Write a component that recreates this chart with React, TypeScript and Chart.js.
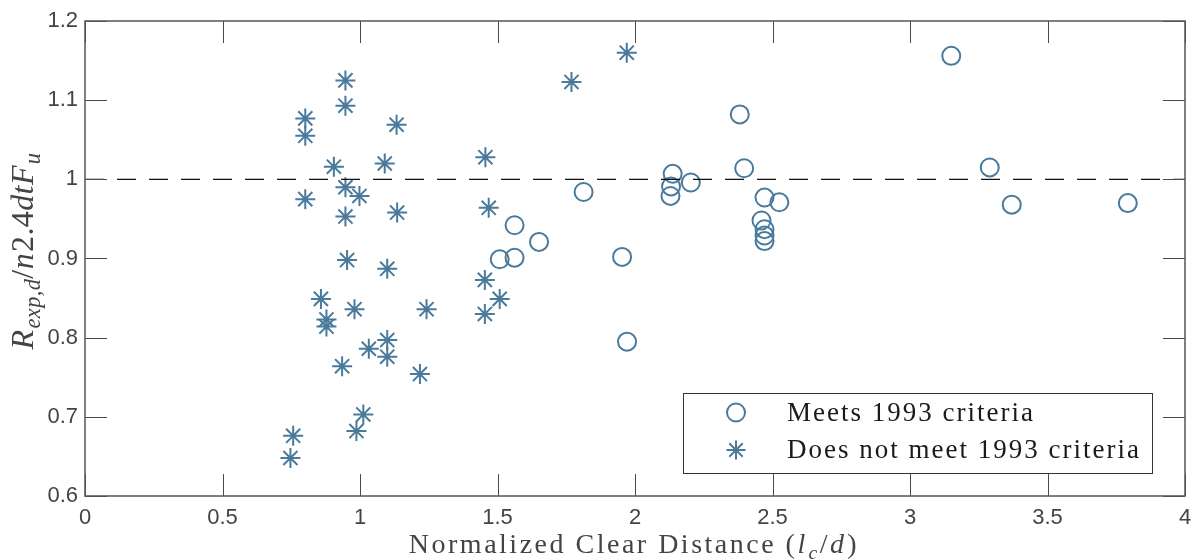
import React, { useEffect, useRef } from "react";
import { Chart, registerables } from "chart.js";

Chart.register(...registerables);

const meetsX = [1.508, 1.562, 1.562, 1.651, 1.813, 1.953, 1.971, 2.129, 2.131, 2.137, 2.203, 2.381, 2.397, 2.46, 2.471, 2.471, 2.471, 2.471, 2.525, 3.15, 3.29, 3.37, 3.792];
const meetsY = [0.899, 0.901, 0.942, 0.921, 0.984, 0.902, 0.795, 0.979, 0.991, 1.007, 0.996, 1.082, 1.014, 0.948, 0.977, 0.937, 0.929, 0.922, 0.971, 1.156, 1.015, 0.968, 0.97];

const notMeetX = [0.747, 0.757, 0.801, 0.801, 0.801, 0.858, 0.878, 0.878, 0.905, 0.935, 0.947, 0.947, 0.947, 0.947, 0.953, 0.98, 0.987, 0.998, 1.012, 1.032, 1.09, 1.099, 1.099, 1.099, 1.133, 1.135, 1.218, 1.242, 1.454, 1.454, 1.456, 1.468, 1.508, 1.769, 1.97];
const notMeetY = [0.648, 0.676, 1.077, 1.055, 0.975, 0.849, 0.823, 0.814, 1.016, 0.764, 1.125, 1.093, 0.99, 0.953, 0.898, 0.836, 0.682, 0.979, 0.703, 0.786, 1.02, 0.887, 0.797, 0.776, 1.069, 0.958, 0.754, 0.836, 0.873, 0.83, 1.028, 0.964, 0.849, 1.123, 1.16];

const refX = [0, 4];
const refY = [1, 1];

const xTicks = [0, 0.5, 1, 1.5, 2, 2.5, 3, 3.5, 4];
const yTicks = [0.6, 0.7, 0.8, 0.9, 1, 1.1, 1.2];

const seriesLabels = ["Meets 1993 criteria", "Does not meet 1993 criteria"];

const MARK = "#4a7a9b";
const SERIF = "'Liberation Serif', 'DejaVu Serif', serif";
const SANS = "'Liberation Sans', Arial, sans-serif";

type Seg = { t: string; it?: boolean; sub?: boolean };

function layoutRich(ctx: CanvasRenderingContext2D, segs: Seg[], size: number, spacing: number) {
  let w = 0;
  const parts = segs.map((s) => {
    const fs = s.sub ? size * 0.7 : size;
    const font = `${s.it ? "italic " : ""}${fs}px ${SERIF}`;
    ctx.font = font;
    (ctx as any).letterSpacing = `${spacing}px`;
    const mw = ctx.measureText(s.t).width;
    const p = { s, font, x: w, mw };
    w += mw + (s.it && !s.sub ? size * 0.03 : 0);
    return p;
  });
  return { w, parts };
}

function paintRich(ctx: CanvasRenderingContext2D, segs: Seg[], size: number, spacing: number, cx: number, by: number) {
  const { w, parts } = layoutRich(ctx, segs, size, spacing);
  const x0 = cx - w / 2;
  parts.forEach((p) => {
    ctx.font = p.font;
    (ctx as any).letterSpacing = `${spacing}px`;
    ctx.fillText(p.s.t, x0 + p.x, by + (p.s.sub ? size * 0.22 : 0));
  });
  (ctx as any).letterSpacing = "0px";
}

const framePlugin = {
  id: "framePlugin",
  afterDraw(chart: any) {
    const { ctx, chartArea: a, scales } = chart;
    ctx.save();
    // inward ticks
    ctx.strokeStyle = "#4a4a4a";
    ctx.lineWidth = 1;
    const tl = 22;
    xTicks.forEach((v) => {
      const x = Math.round(scales.x.getPixelForValue(v)) + 0.5;
      ctx.beginPath();
      ctx.moveTo(x, a.bottom);
      ctx.lineTo(x, a.bottom - tl);
      ctx.moveTo(x, a.top);
      ctx.lineTo(x, a.top + tl);
      ctx.stroke();
    });
    yTicks.forEach((v) => {
      const y = Math.round(scales.y.getPixelForValue(v)) + 0.5;
      ctx.beginPath();
      ctx.moveTo(a.left, y);
      ctx.lineTo(a.left + tl, y);
      ctx.moveTo(a.right, y);
      ctx.lineTo(a.right - tl, y);
      ctx.stroke();
    });
    // box
    ctx.strokeStyle = "#555";
    ctx.lineWidth = 1.5;
    ctx.strokeRect(a.left, a.top, a.right - a.left, a.bottom - a.top);

    // legend
    const lx = 683, ly = 393, lw = 469, lh = 80;
    ctx.fillStyle = "#fff";
    ctx.fillRect(lx, ly, lw, lh);
    ctx.strokeStyle = "#333";
    ctx.lineWidth = 1;
    ctx.strokeRect(lx + 0.5, ly + 0.5, lw, lh);
    const rows = [412.5, 450];
    ctx.strokeStyle = MARK;
    ctx.lineWidth = 2;
    ctx.beginPath();
    ctx.arc(736, rows[0], 9, 0, Math.PI * 2);
    ctx.stroke();
    const r = 9.5, sx = 736, sy = rows[1];
    ctx.beginPath();
    for (let i = 0; i < 4; i++) {
      const ang = (i * Math.PI) / 4;
      ctx.moveTo(sx - Math.cos(ang) * r, sy - Math.sin(ang) * r);
      ctx.lineTo(sx + Math.cos(ang) * r, sy + Math.sin(ang) * r);
    }
    ctx.stroke();
    ctx.fillStyle = "#1a1a1a";
    ctx.font = `27px ${SERIF}`;
    (ctx as any).letterSpacing = "2px";
    ctx.textBaseline = "middle";
    ctx.textAlign = "left";
    ctx.fillText(seriesLabels[0], 787, rows[0] + 1);
    ctx.fillText(seriesLabels[1], 787, rows[1] + 1);
    (ctx as any).letterSpacing = "0px";

    // axis titles
    ctx.textBaseline = "alphabetic";
    ctx.fillStyle = "#444";
    paintRich(
      ctx,
      [
        { t: "Normalized Clear Distance (" },
        { t: "l", it: true },
        { t: "c", it: true, sub: true },
        { t: "/" },
        { t: "d", it: true },
        { t: ")" },
      ],
      28,
      2.5,
      634,
      553
    );
    ctx.save();
    ctx.translate(33, 251);
    ctx.rotate(-Math.PI / 2);
    paintRich(
      ctx,
      [
        { t: "R", it: true },
        { t: "exp,d", it: true, sub: true },
        { t: "/" },
        { t: "n", it: true },
        { t: "2.4" },
        { t: "dtF", it: true },
        { t: "u", it: true, sub: true },
      ],
      32,
      0.4,
      0,
      0
    );
    ctx.restore();
    ctx.restore();
  },
};

export default function App() {
  const ref = useRef<HTMLCanvasElement | null>(null);
  useEffect(() => {
    if (!ref.current) return;
    const chart = new Chart(ref.current, {
      type: "scatter",
      data: {
        datasets: [
          {
            type: "line",
            label: "ref",
            data: refX.map((x, i) => ({ x, y: refY[i] })),
            borderColor: "#111",
            borderWidth: 1.3,
            borderDash: [19, 13],
            pointRadius: 0,
            showLine: true,
            fill: false,
          } as any,
          {
            label: seriesLabels[0],
            data: meetsX.map((x, i) => ({ x, y: meetsY[i] })),
            pointStyle: "circle",
            pointRadius: 9,
            borderColor: MARK,
            backgroundColor: "rgba(0,0,0,0)",
            borderWidth: 2,
          },
          {
            label: seriesLabels[1],
            data: notMeetX.map((x, i) => ({ x, y: notMeetY[i] })),
            pointStyle: "star",
            pointRadius: 10,
            borderColor: MARK,
            backgroundColor: MARK,
            borderWidth: 2,
          },
        ],
      },
      options: {
        animation: false,
        responsive: false,
        devicePixelRatio: 1,
        layout: { autoPadding: false, padding: { top: 21, right: 6, left: 0, bottom: 0 } },
        plugins: { legend: { display: false }, tooltip: { enabled: false } },
        scales: {
          x: {
            type: "linear",
            min: 0,
            max: 4,
            afterBuildTicks: (s: any) => {
              s.ticks = xTicks.map((v) => ({ value: v }));
            },
            afterFit: (s: any) => {
              s.height = 64;
              s.paddingLeft = 0;
              s.paddingRight = 0;
            },
            grid: { display: false, drawTicks: false },
            border: { display: false },
            ticks: {
              padding: 9,
              color: "#444",
              font: { family: SANS, size: 22 },
              maxRotation: 0,
              callback: (v: any) => String(v),
            },
          },
          y: {
            type: "linear",
            min: 0.6,
            max: 1.2,
            afterBuildTicks: (s: any) => {
              s.ticks = yTicks.map((v) => ({ value: v }));
            },
            afterFit: (s: any) => {
              s.width = 85;
              s.paddingTop = 0;
              s.paddingBottom = 0;
            },
            grid: { display: false, drawTicks: false },
            border: { display: false },
            ticks: {
              padding: 7,
              color: "#444",
              font: { family: SANS, size: 22 },
              callback: (v: any) => String(v),
            },
          },
        },
      },
      plugins: [framePlugin],
    });
    return () => chart.destroy();
  }, []);
  return (
    <div style={{ position: "absolute", left: 0, top: 0, width: 1191, height: 560, background: "#fff" }}>
      <canvas ref={ref} width={1191} height={560} style={{ width: 1191, height: 560, display: "block" }} />
    </div>
  );
}
